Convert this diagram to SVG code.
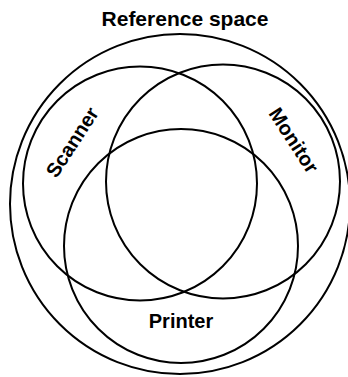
<svg xmlns="http://www.w3.org/2000/svg" width="348" height="377" viewBox="0 0 348 377">
<style>
.c{fill:none;stroke:#000;stroke-width:2}
.t{font-family:"Liberation Sans",Arial,sans-serif;font-weight:bold;font-size:20px;fill:#000;text-anchor:middle}
</style>
<rect width="348" height="377" fill="#fff"/>
<g id="reference-space">
<circle class="c" cx="180" cy="204" r="170"/>
<text class="t" x="185" y="25.5" style="font-size:21px">Reference space</text>
</g>
<g id="scanner">
<circle class="c" cx="140" cy="183.5" r="117"/>
<text class="t" transform="translate(78,146) rotate(-57)">Scanner</text>
</g>
<g id="monitor">
<circle class="c" cx="223" cy="181.5" r="117"/>
<text class="t" transform="translate(288,144) rotate(57)">Monitor</text>
</g>
<g id="printer">
<circle class="c" cx="181" cy="246" r="117"/>
<text class="t" x="181" y="328">Printer</text>
</g>
<g id="connectors"></g>
</svg>
